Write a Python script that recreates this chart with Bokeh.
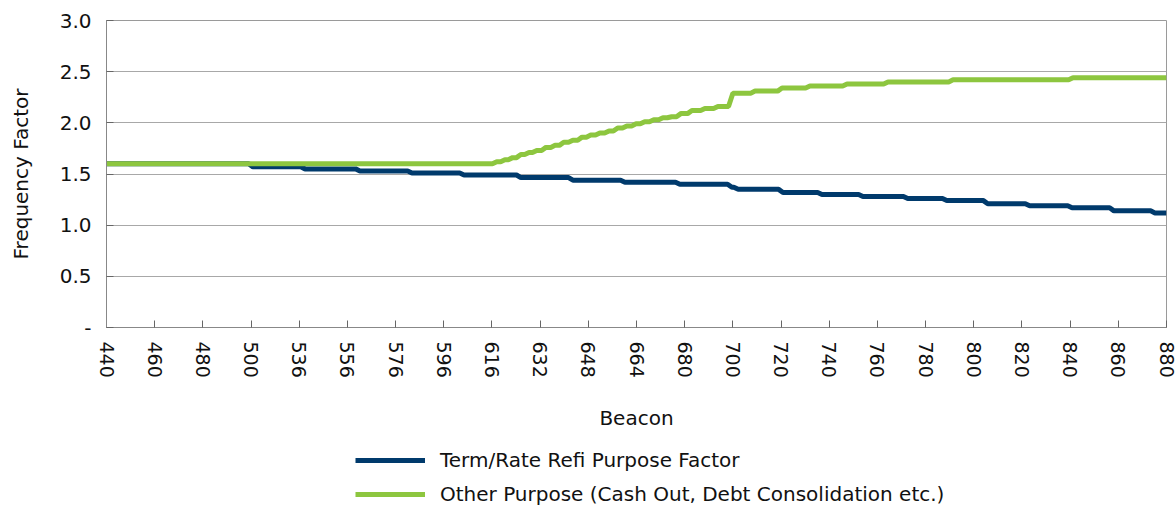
from bokeh.plotting import figure
from bokeh.layouts import column
from bokeh.models import Legend, LegendItem, FixedTicker, Range1d
from bokeh.embed import file_html
from bokeh.resources import INLINE

# ---- data -------------------------------------------------------------
beacon_labels = ["440", "460", "480", "500", "536", "556", "576", "596", "616",
                 "632", "648", "664", "680", "700", "720", "740", "760", "780",
                 "800", "820", "840", "860", "880"]
y_ticks = [0, 0.5, 1.0, 1.5, 2.0, 2.5, 3.0]
y_tick_labels = ["-", "0.5", "1.0", "1.5", "2.0", "2.5", "3.0"]

# step positions on the category axis (0 = first label "440", 22 = last "880")
term_steps = [2.95, 4.03, 5.17, 6.25, 7.33, 8.51, 9.59, 10.67, 11.81, 12.89,
              13.02, 13.95, 14.76, 15.61, 16.54, 17.35, 18.20, 19.07, 19.95,
              20.82, 21.67]
term_levels = [1.60, 1.57, 1.55, 1.53, 1.51, 1.49, 1.465, 1.44, 1.42, 1.40,
               1.37, 1.35, 1.32, 1.30, 1.28, 1.26, 1.24, 1.21, 1.19, 1.17,
               1.14, 1.12]

other_steps = [8.01, 8.18, 8.34, 8.51, 8.68, 8.84, 9.03, 9.22, 9.40, 9.59,
               9.78, 9.96, 10.15, 10.34, 10.52, 10.71, 10.90, 11.08, 11.27,
               11.46, 11.64, 11.83, 12.06, 12.33, 12.60, 12.91, 13.37, 13.93,
               14.51, 15.28, 16.13, 17.48, 19.97]
other_levels = [1.60, 1.62, 1.64, 1.66, 1.69, 1.71, 1.73, 1.76, 1.78, 1.81,
                1.83, 1.86, 1.88, 1.90, 1.92, 1.95, 1.97, 1.99, 2.01, 2.03,
                2.05, 2.06, 2.09, 2.12, 2.14, 2.16, 2.29, 2.31, 2.34, 2.36,
                2.38, 2.40, 2.42, 2.44]

series_names = ["Term/Rate Refi Purpose Factor",
                "Other Purpose (Cash Out, Debt Consolidation etc.)"]
series_colors = ["#003A6C", "#8DC63F"]


def stair(steps, levels, end, ramp=0.09):
    xs, ys = [0.0], [levels[0]]
    prev = levels[0]
    for s, lv in zip(steps, levels[1:]):
        xs += [s, s + ramp]
        ys += [prev, lv]
        prev = lv
    xs.append(end)
    ys.append(prev)
    return xs, ys


n_last = len(beacon_labels) - 1
tx, ty = stair(term_steps, term_levels, n_last)
ox, oy = stair(other_steps, other_levels, n_last)

FONT = "DejaVu Sans"
FS = "20px"
TXT = "#111111"

p = figure(width=1176, height=440, output_backend="svg", toolbar_location=None,
           x_range=Range1d(0, n_last), y_range=Range1d(0, 3),
           min_border_left=106, min_border_right=10, min_border_top=20,
           min_border_bottom=113)
p.background_fill_color = "white"
p.border_fill_color = "white"
p.outline_line_color = "#9A9A9A"
p.outline_line_width = 1

r1 = p.line(tx, ty, line_color=series_colors[0], line_width=5)
r2 = p.line(ox, oy, line_color=series_colors[1], line_width=5)

# axes
xa = p.xaxis[0]
xa.ticker = FixedTicker(ticks=list(range(len(beacon_labels))))
xa.major_label_overrides = {i: lab for i, lab in enumerate(beacon_labels)}
xa.major_label_orientation = "vertical"
xa.axis_label = "Beacon"
ya = p.yaxis[0]
ya.ticker = FixedTicker(ticks=y_ticks)
ya.major_label_overrides = {t: lab for t, lab in zip(y_ticks, y_tick_labels)}
ya.axis_label = "Frequency Factor"

for ax in (xa, ya):
    ax.axis_line_color = "#888888"
    ax.axis_line_width = 1
    ax.major_tick_line_color = "#666666"
    ax.major_tick_in = 7
    ax.major_tick_out = 0
    ax.minor_tick_line_color = None
    ax.major_label_text_font = FONT
    ax.major_label_text_font_size = FS
    ax.major_label_text_color = TXT
    ax.axis_label_text_font = FONT
    ax.axis_label_text_font_size = FS
    ax.axis_label_text_font_style = "normal"
    ax.axis_label_text_color = TXT

xa.major_label_text_font_size = "19px"
xa.major_label_standoff = 14
xa.axis_label_standoff = 25
ya.major_label_standoff = 15
ya.axis_label_standoff = 24

p.xgrid.grid_line_color = None
p.ygrid.grid_line_color = "#A8A8A8"
p.ygrid.grid_line_width = 1

# ---- legend strip below the chart ---------------------------------------
# (the series are re-plotted in a y-range where they fall outside the view,
#  so only their legend entries show)
pl = figure(width=1176, height=66, output_backend="svg", toolbar_location=None,
            x_axis_location=None, y_axis_location=None,
            x_range=Range1d(0, n_last), y_range=Range1d(10, 11),
            min_border_left=0, min_border_right=0, min_border_top=0,
            min_border_bottom=0)
pl.outline_line_color = None
pl.grid.grid_line_color = None
pl.background_fill_alpha = 0
lr1 = pl.line(tx, ty, line_color=series_colors[0], line_width=5)
lr2 = pl.line(ox, oy, line_color=series_colors[1], line_width=5)

legend = Legend(items=[LegendItem(label=series_names[0], renderers=[lr1]),
                       LegendItem(label=series_names[1], renderers=[lr2])],
                location=(249, 0), orientation="vertical",
                glyph_width=70, glyph_height=22, label_standoff=15,
                spacing=10, padding=0, margin=0,
                border_line_color=None, background_fill_alpha=0,
                label_text_font=FONT, label_text_font_size=FS,
                label_text_color=TXT, label_height=22)
pl.add_layout(legend)

layout = column(p, pl, spacing=0)
open("out.html", "w").write(file_html(layout, INLINE))
